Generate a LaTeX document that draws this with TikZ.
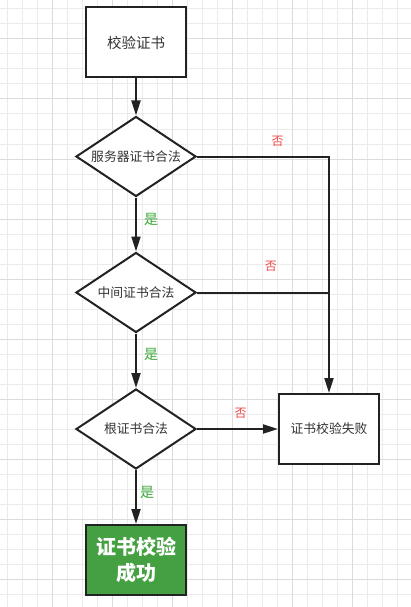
\documentclass[tikz,border=0pt]{standalone}
\usepackage{fontspec}
\setmainfont{Noto Sans CJK SC}
\usetikzlibrary{shapes.geometric,arrows.meta}

\definecolor{ink}{HTML}{222222}
\definecolor{txt}{HTML}{333333}
\definecolor{gridminor}{HTML}{EBEBEB}
\definecolor{gridmajor}{HTML}{DCDCDC}
\definecolor{okfill}{HTML}{44A040}
\definecolor{yescol}{HTML}{3AA83A}
\definecolor{nocol}{HTML}{F04848}

\tikzset{
  stepbox/.style={draw=ink, line width=2pt, fill=white, rectangle,
    minimum width=100pt, minimum height=70pt, inner sep=0pt,
    font=\fontsize{14.5}{16}\selectfont, text=txt},
  decision/.style={draw=ink, line width=2pt, fill=white, diamond,
    minimum width=120pt, minimum height=80pt, inner sep=0pt},
  dtext/.style={font=\fontsize{12.8}{15}\selectfont, text=txt},
  okbox/.style={stepbox, fill=okfill, text=white,
    font=\fontsize{20}{26}\selectfont\bfseries, align=center},
  flow/.style={draw=ink, line width=2pt,
    -{Triangle[length=15pt,width=9pt]}},
  plain/.style={draw=ink, line width=2pt},
  yes/.style={text=yescol, font=\fontsize{14}{16}\selectfont, inner sep=0pt},
  no/.style={text=nocol, font=\fontsize{12}{14}\selectfont, inner sep=0pt}
}

\begin{document}
\begin{tikzpicture}[x=1pt,y=-1pt]
  % canvas and background grid
  \fill[white] (0,0) rectangle (411,607);
  \useasboundingbox (0,0) rectangle (411,607);
  \foreach \x in {7,22,...,407} \draw[gridminor, line width=1pt] (\x,0) -- (\x,607);
  \foreach \y in {9,24,...,604} \draw[gridminor, line width=1pt] (0,\y) -- (411,\y);
  \foreach \x in {52,112,...,407} \draw[gridmajor, line width=1pt] (\x,0) -- (\x,607);
  \foreach \y in {39,99,...,604} \draw[gridmajor, line width=1pt] (0,\y) -- (411,\y);

  % flowchart nodes
  \node[stepbox] (start) at (136,42.5) {校验证书};
  \node[decision, label={[dtext]center:服务器证书合法}] (d1) at (136,156.5) {};
  \node[decision, label={[dtext]center:中间证书合法}] (d2) at (136,292.5) {};
  \node[decision, label={[dtext]center:根证书合法}] (d3) at (136,429) {};
  \node[stepbox, font=\fontsize{12.8}{15}\selectfont] (fail) at (329,429) {证书校验失败};
  \node[okbox] (ok) at (136,560) {证书校验\\成功};

  % connectors
  \draw[flow] (start) -- (d1);
  \draw[flow] (d1) -- node[yes, pos=0.4, anchor=west, xshift=7pt] {是} (d2);
  \draw[flow] (d2) -- node[yes, pos=0.38, anchor=west, xshift=7pt] {是} (d3);
  \draw[flow] (d3) -- node[yes, pos=0.42, anchor=west, xshift=3pt] {是} (ok);
  \draw[flow] (d3) -- node[no, pos=0.54, yshift=16pt] {否} (fail);
  \draw[flow] (d1.east) -| node[no, pos=0.305, yshift=15pt] {否} (fail.north);
  \coordinate (join) at (d2.east -| fail.north);
  \draw[plain] (d2.east) -- node[no, pos=0.56, yshift=26pt] {否} (join);
\end{tikzpicture}
\end{document}
